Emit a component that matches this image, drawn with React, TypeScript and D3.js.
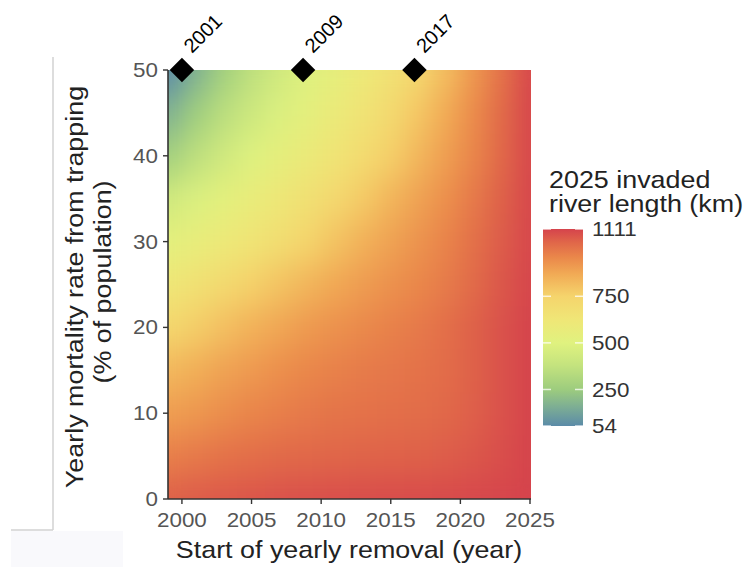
import React from "react";
import * as d3 from "d3";

// ---- data ----
const years = [1999, 2001, 2003, 2005, 2007, 2009, 2011, 2013, 2015, 2017, 2019, 2021, 2023, 2025];
const mortality = [0, 5, 10, 15, 20, 25, 30, 35, 40, 45, 50];
const km_m0 = [1050, 1060, 1068, 1075, 1080, 1085, 1088, 1090, 1092, 1094, 1096, 1100, 1105, 1111];
const km_m5 = [980, 995, 1010, 1020, 1030, 1035, 1040, 1045, 1048, 1050, 1058, 1070, 1088, 1108];
const km_m10 = [900, 920, 945, 965, 980, 995, 1005, 1012, 1018, 1022, 1035, 1055, 1080, 1108];
const km_m15 = [830, 860, 890, 915, 940, 960, 975, 990, 1000, 1010, 1025, 1050, 1080, 1108];
const km_m20 = [730, 770, 810, 850, 880, 910, 935, 955, 975, 995, 1020, 1050, 1080, 1108];
const km_m25 = [620, 665, 715, 760, 800, 840, 875, 905, 935, 960, 990, 1030, 1070, 1105];
const km_m30 = [520, 560, 600, 640, 690, 745, 800, 850, 890, 930, 970, 1015, 1060, 1100];
const km_m35 = [430, 480, 525, 570, 615, 665, 720, 780, 840, 890, 940, 995, 1050, 1100];
const km_m40 = [270, 360, 430, 490, 540, 590, 640, 700, 765, 835, 900, 965, 1035, 1100];
const km_m45 = [170, 260, 350, 420, 480, 530, 585, 645, 715, 790, 870, 950, 1030, 1100];
const km_m50 = [54, 170, 270, 360, 430, 490, 540, 600, 660, 730, 820, 920, 1010, 1100];

const xTicks = [2000, 2005, 2010, 2015, 2020, 2025];
const yTicks = [0, 10, 20, 30, 40, 50];
const legendBreaks = [54, 250, 500, 750, 1111];
const markerLabels = ["2001", "2009", "2017"];
const markerYears = [2000, 2008.7, 2016.7];
const markerMortality = [50, 50, 50];

const colorDomain = [54, 160, 250, 380, 500, 620, 750, 870, 960, 1040, 1111];
const colorRange = [
  "#5b8ba8", "#7eaf93", "#9dcc7e", "#c4e37e", "#e0f27f", "#efe777",
  "#f5d46c", "#f1aa55", "#ea874a", "#e06649", "#d5434c",
];

const FONT = "'Liberation Sans', Arial, Helvetica, sans-serif";
const SX = 1.12;

export default function App() {
  const x = d3.scaleLinear().domain([1999, 2025]).range([168, 530]);
  const y = d3.scaleLinear().domain([0, 50]).range([499, 70]);
  const color = d3
    .scaleLinear<string>()
    .domain(colorDomain)
    .range(colorRange)
    .interpolate(d3.interpolateRgb)
    .clamp(true);
  const leg = d3.scaleLinear().domain([54, 1111]).range([426, 229]);

  const rows = [km_m0, km_m5, km_m10, km_m15, km_m20, km_m25, km_m30, km_m35, km_m40, km_m45, km_m50];
  const cells: React.ReactNode[] = [];
  rows.forEach((row, i) => {
    row.forEach((v, j) => {
      const yr = years[j];
      const m = mortality[i];
      const x0 = x(yr - 1);
      const x1 = x(yr + 1);
      const y0 = y(m + 2.5);
      const y1 = y(m - 2.5);
      cells.push(
        <rect key={`${i}-${j}`} x={x0} y={y0} width={x1 - x0 + 0.6} height={y1 - y0 + 0.6} fill={color(v)} />
      );
    });
  });

  const [px0, px1] = x.range();
  const [py1, py0] = y.range();
  const diamond = d3.symbol(d3.symbolSquare, 300)() as string;

  const gradStops = [...colorDomain].reverse().map((v, i) => (
    <stop key={i} offset={(1111 - v) / (1111 - 54)} stopColor={color(v)} />
  ));

  return (
    <svg width={746} height={567} style={{ position: "absolute", left: 0, top: 0, background: "#fff" }} fontFamily={FONT}>
      <defs>
        <clipPath id="panel">
          <rect x={px0} y={py0} width={px1 - px0 + 1} height={py1 - py0} />
        </clipPath>
        <filter id="smooth" x="-10%" y="-10%" width="120%" height="120%" colorInterpolationFilters="sRGB">
          <feGaussianBlur stdDeviation="11 16" />
          <feComponentTransfer>
            <feFuncA type="table" tableValues="1 1" />
          </feComponentTransfer>
        </filter>
        <linearGradient id="lg" x1="0" y1="0" x2="0" y2="1">
          {gradStops}
        </linearGradient>
      </defs>

      {/* faint frame artefacts */}
      <rect x={11} y={531} width={112} height={36} fill="#f9f9fc" />
      <line x1={53} y1={57} x2={53} y2={530} stroke="#d2d2d2" strokeWidth={1.5} />
      <line x1={11} y1={530} x2={53} y2={530} stroke="#d2d2d2" strokeWidth={1.5} />

      {/* heatmap */}
      <g clipPath="url(#panel)">
        <g filter="url(#smooth)">{cells}</g>
      </g>

      {/* axes */}
      <line x1={px0} y1={py0} x2={px0} y2={py1} stroke="#333" strokeWidth={1.6} />
      <line x1={px0} y1={py1} x2={px1 + 1} y2={py1} stroke="#333" strokeWidth={1.6} />
      {yTicks.map((t) => (
        <g key={`yt${t}`}>
          <line x1={px0 - 5} x2={px0} y1={y(t)} y2={y(t)} stroke="#333" strokeWidth={1.4} />
          <text
            transform={`translate(${px0 - 10},${y(t)}) scale(${SX},1)`}
            textAnchor="end"
            dominantBaseline="central"
            fontSize={20}
            fill="#555"
          >
            {t}
          </text>
        </g>
      ))}
      {xTicks.map((t) => (
        <g key={`xt${t}`}>
          <line x1={x(t)} x2={x(t)} y1={py1} y2={py1 + 5} stroke="#333" strokeWidth={1.4} />
          <text transform={`translate(${x(t)},527) scale(${SX},1)`} textAnchor="middle" fontSize={20} fill="#555">
            {t}
          </text>
        </g>
      ))}

      {/* axis titles */}
      <text transform={`translate(349,558) scale(${SX},1)`} textAnchor="middle" fontSize={24} fill="#222">
        Start of yearly removal (year)
      </text>
      <text transform={`translate(83,287) rotate(-90) scale(${SX},1)`} textAnchor="middle" fontSize={24} fill="#222">
        Yearly mortality rate from trapping
      </text>
      <text transform={`translate(111,282) rotate(-90) scale(${SX},1)`} textAnchor="middle" fontSize={24} fill="#222">
        (% of population)
      </text>

      {/* markers */}
      {markerYears.map((yr, i) => (
        <g key={`mk${i}`}>
          <path d={diamond} transform={`translate(${x(yr)},${y(markerMortality[i])}) rotate(45)`} fill="#000" />
          <text
            transform={`translate(${x(yr) + 10},${y(markerMortality[i]) - 16}) rotate(-45)`}
            fontSize={20}
            fill="#000"
          >
            {markerLabels[i]}
          </text>
        </g>
      ))}

      {/* legend */}
      <text transform={`translate(549,188) scale(${SX},1)`} fontSize={24} fill="#222">
        2025 invaded
      </text>
      <text transform={`translate(549,212) scale(${SX},1)`} fontSize={24} fill="#222">
        river length (km)
      </text>
      <rect x={543} y={leg(1111)} width={40} height={leg(54) - leg(1111)} fill="url(#lg)" />
      {legendBreaks.map((b) => (
        <g key={`lb${b}`}>
          <line x1={543} x2={551} y1={leg(b)} y2={leg(b)} stroke="#fff" strokeOpacity={0.75} strokeWidth={1.5} />
          <line x1={575} x2={583} y1={leg(b)} y2={leg(b)} stroke="#fff" strokeOpacity={0.75} strokeWidth={1.5} />
          <text
            transform={`translate(592,${leg(b)}) scale(${SX},1)`}
            dominantBaseline="central"
            fontSize={20}
            fill="#333"
          >
            {b}
          </text>
        </g>
      ))}
    </svg>
  );
}
